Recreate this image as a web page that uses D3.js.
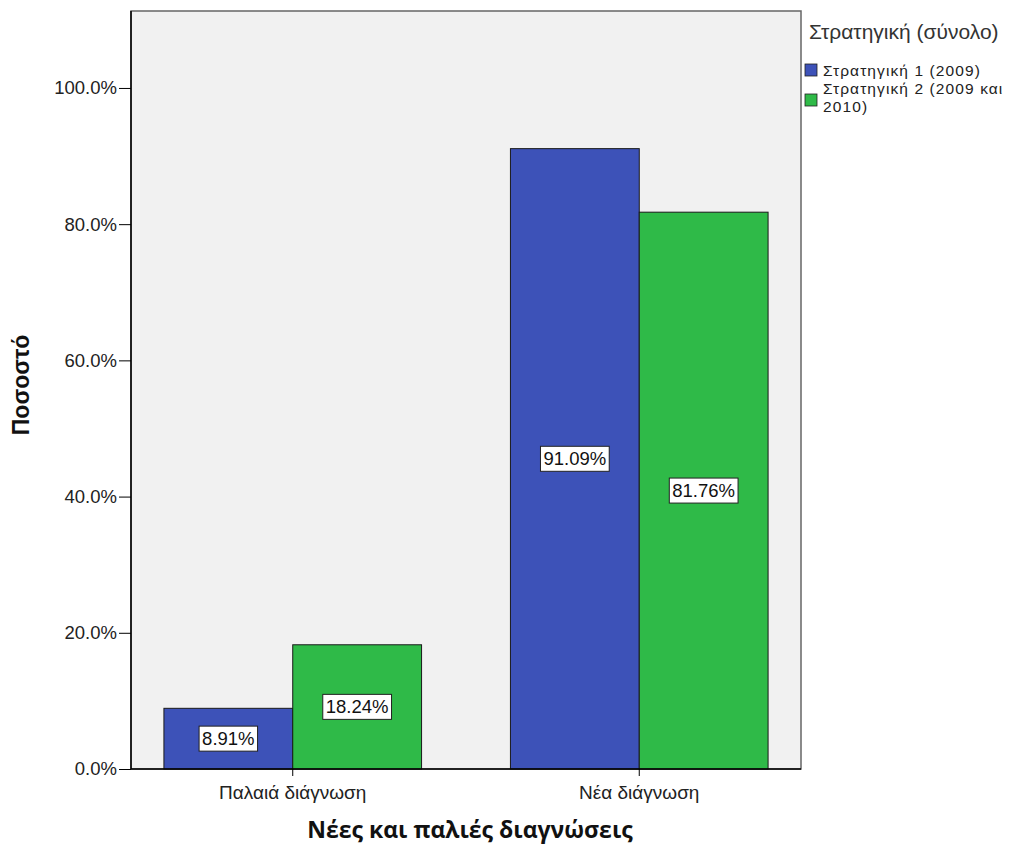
<!DOCTYPE html>
<html><head><meta charset="utf-8">
<script src="https://cdn.jsdelivr.net/npm/d3@7"></script>
<style>body{margin:0;background:#fff}</style>
</head><body>
<svg id="c" width="1018" height="850"></svg>
<script>
const categories = ["Παλαιά διάγνωση", "Νέα διάγνωση"];
const seriesNames = ["Στρατηγική 1 (2009)", "Στρατηγική 2 (2009 και 2010)"];
const strategy1 = [8.91, 91.09];
const strategy2 = [18.24, 81.76];
const yTicks = [0, 20, 40, 60, 80, 100];
const colors = ["#3d52b8", "#2fba48"];
const legendTitle = "Στρατηγική (σύνολο)";
const xTitle = "Νέες και παλιές διαγνώσεις";
const yTitle = "Ποσοστό";

const svg = d3.select("#c");
const FONT = "Liberation Sans, Arial";
const L = 131, R = 801, T = 11, B = 769;
const y = d3.scaleLinear().domain([0, 111.3]).range([B, T]);
const x0 = d3.scaleBand().domain(categories).range([L, R]).paddingInner(0.2565).paddingOuter(0.095);
const x1 = d3.scaleBand().domain([0, 1]).range([0, x0.bandwidth()]);
const series = [strategy1, strategy2];

svg.append("rect").attr("x", L).attr("y", T).attr("width", R - L).attr("height", B - T)
  .attr("fill", "#f1f1f1").attr("stroke", "#666").attr("stroke-width", 1.5);

const data = [];
categories.forEach((c, i) => series.forEach((s, j) => data.push({c, j, v: s[i]})));

svg.append("g").selectAll("rect").data(data).join("rect")
  .attr("x", d => x0(d.c) + x1(d.j))
  .attr("y", d => y(d.v))
  .attr("width", x1.bandwidth())
  .attr("height", d => B - y(d.v))
  .attr("fill", d => colors[d.j])
  .attr("stroke", "#1a1a1a").attr("stroke-width", 1);

const lab = svg.append("g").selectAll("g").data(data).join("g")
  .attr("transform", d => `translate(${x0(d.c) + x1(d.j) + x1.bandwidth() / 2},${(y(d.v) + B) / 2})`);
lab.append("text").text(d => d.v.toFixed(2) + "%")
  .attr("text-anchor", "middle").attr("dy", "0.35em")
  .attr("font-family", FONT).attr("font-size", 18.5).attr("fill", "#111");
lab.each(function() {
  const g = d3.select(this);
  const bb = g.select("text").node().getBBox();
  g.insert("rect", "text").attr("x", bb.x - 3).attr("y", bb.y - 2)
    .attr("width", bb.width + 6).attr("height", bb.height + 4)
    .attr("fill", "#fff").attr("stroke", "#222").attr("stroke-width", 1);
});

const yAxis = svg.append("g").attr("transform", `translate(${L},0)`)
  .call(d3.axisLeft(y).tickValues(yTicks).tickFormat(d => d3.format(".1f")(d) + "%").tickSize(12).tickPadding(2));
yAxis.select(".domain").attr("d", `M0,${T}V${B}`).attr("stroke", "#000").attr("stroke-width", 1.5);
yAxis.selectAll("text").attr("font-family", FONT).attr("font-size", 18.5).attr("fill", "#222");

const xAxis = svg.append("g").attr("transform", `translate(0,${B})`)
  .call(d3.axisBottom(x0).tickSize(7).tickPadding(10));
xAxis.select(".domain").attr("d", `M${L},0H${R}`).attr("stroke", "#000").attr("stroke-width", 1.5);
xAxis.selectAll("text").attr("font-family", FONT).attr("font-size", 19).attr("fill", "#222");

svg.append("text").attr("x", 470).attr("y", 838).attr("text-anchor", "middle")
  .attr("font-family", "Open Sans").attr("font-weight", "bold").attr("font-size", 23).attr("fill", "#111")
  .text(xTitle);
svg.append("text").attr("transform", "translate(29,385) rotate(-90)").attr("text-anchor", "middle")
  .attr("font-family", FONT).attr("font-weight", "bold").attr("font-size", 23).attr("fill", "#111")
  .text(yTitle);

const lg = svg.append("g");
lg.append("text").attr("x", 809).attr("y", 39).attr("font-family", FONT).attr("font-size", 21).attr("fill", "#333").text(legendTitle);
const itemY = [64, 94];
const baseY = [76, 94];
const lines = [[seriesNames[0]], ["Στρατηγική 2 (2009 και", "2010)"]];
seriesNames.forEach((n, i) => {
  lg.append("rect").attr("x", 805).attr("y", itemY[i]).attr("width", 12).attr("height", 12)
    .attr("fill", colors[i]).attr("stroke", "#222").attr("stroke-width", 0.8);
  const t = lg.append("text").attr("x", 823).attr("y", baseY[i])
    .attr("font-family", FONT).attr("font-size", 15.5).attr("letter-spacing", 1.1).attr("fill", "#222");
  lines[i].forEach((ln, k) => t.append("tspan").attr("x", 823).attr("dy", k ? 18 : 0).text(ln));
});
</script>
</body></html>
